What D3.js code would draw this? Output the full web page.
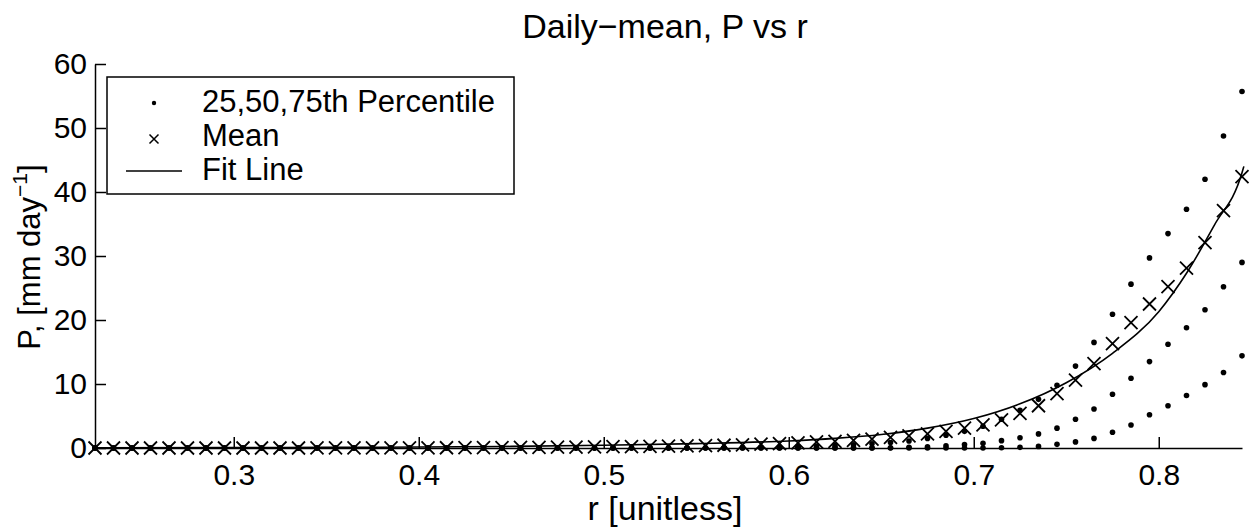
<!DOCTYPE html>
<html>
<head>
<meta charset="utf-8">
<script src="https://cdnjs.cloudflare.com/ajax/libs/d3/7.8.5/d3.min.js"></script>
<style>
  body { margin: 0; background: #fff; }
  svg text { font-family: "Liberation Sans", Arial, Helvetica, sans-serif; fill: #000; }
</style>
</head>
<body>
<svg id="chart" width="1250" height="531"></svg>
<script>
// r bins (bin centres)
var rVals = [
  0.225, 0.235, 0.245, 0.255, 0.265, 0.275, 0.285, 0.295, 0.305, 0.315,
  0.325, 0.335, 0.345, 0.355, 0.365, 0.375, 0.385, 0.395, 0.405, 0.415,
  0.425, 0.435, 0.445, 0.455, 0.465, 0.475, 0.485, 0.495, 0.505, 0.515,
  0.525, 0.535, 0.545, 0.555, 0.565, 0.575, 0.585, 0.595, 0.605, 0.615,
  0.625, 0.635, 0.645, 0.655, 0.665, 0.675, 0.685, 0.695, 0.705, 0.715,
  0.725, 0.735, 0.745, 0.755, 0.765, 0.775, 0.785, 0.795, 0.805, 0.815,
  0.825, 0.835, 0.845
];
var meanP = [
  0, 0, 0, 0, 0, 0, 0, 0, 0, 0,
  0, 0, 0.01, 0.01, 0.01, 0.02, 0.02, 0.03, 0.03, 0.04,
  0.05, 0.06, 0.07, 0.09, 0.1, 0.12, 0.15, 0.18, 0.2, 0.23,
  0.26, 0.3, 0.34, 0.38, 0.43, 0.5, 0.6, 0.7, 0.8, 0.95,
  1.05, 1.2, 1.4, 1.65, 1.9, 2.2, 2.6, 3.1, 3.6, 4.4,
  5.4, 6.6, 8.5, 10.6, 13.2, 16.3, 19.6, 22.5, 25.2, 28.1,
  32.1, 37.1, 42.4
];
var p75 = [
  0, 0, 0, 0, 0, 0, 0, 0, 0, 0,
  0, 0, 0, 0, 0, 0, 0, 0, 0, 0,
  0, 0, 0, 0, 0, 0, 0, 0, 0, 0,
  0, 0, 0, 0.05, 0.08, 0.12, 0.16, 0.2, 0.25, 0.3,
  0.4, 0.5, 0.65, 0.85, 1.1, 1.5, 2.0, 2.6, 3.4, 4.5,
  5.9, 7.6, 9.8, 12.8, 16.5, 20.9, 25.6, 29.7, 33.5, 37.3,
  42.0, 48.75, 55.7
];
var p50 = [
  0, 0, 0, 0, 0, 0, 0, 0, 0, 0,
  0, 0, 0, 0, 0, 0, 0, 0, 0, 0,
  0, 0, 0, 0, 0, 0, 0, 0, 0, 0,
  0, 0, 0, 0, 0, 0, 0, 0, 0, 0,
  0, 0, 0, 0.05, 0.1, 0.2, 0.35, 0.55, 0.75, 1.15,
  1.6, 2.2, 3.1, 4.5, 6.1, 8.4, 10.9, 13.5, 16.2, 18.8,
  21.6, 25.2, 29.0
];
var p25 = [
  0, 0, 0, 0, 0, 0, 0, 0, 0, 0,
  0, 0, 0, 0, 0, 0, 0, 0, 0, 0,
  0, 0, 0, 0, 0, 0, 0, 0, 0, 0,
  0, 0, 0, 0, 0, 0, 0, 0, 0, 0,
  0, 0, 0, 0, 0, 0, 0, 0, 0, 0.05,
  0.1, 0.25, 0.57, 0.95, 1.5, 2.45, 3.6, 5.2, 6.6, 8.2,
  9.9, 11.8, 14.4
];
// fit line
var fitR = [0.225, 0.3, 0.35, 0.4, 0.45, 0.5, 0.55, 0.6, 0.625, 0.65, 0.675, 0.7, 0.725, 0.75, 0.775, 0.8, 0.815, 0.83, 0.845, 0.846];
var fitP = [0.03, 0.06, 0.1, 0.15, 0.25, 0.42, 0.68, 1.1, 1.5, 2.1, 3.1, 4.6, 6.9, 10.2, 14.8, 21.3, 27.3, 34.8, 43.0, 44.0];

var xTicks = [0.3, 0.4, 0.5, 0.6, 0.7, 0.8];
var yTicks = [0, 10, 20, 30, 40, 50, 60];
var legendLabels = ["25,50,75th Percentile", "Mean", "Fit Line"];

var svg = d3.select('#chart');

var x = d3.scaleLinear().domain([0.225, 0.845]).range([95, 1242]);
var y = d3.scaleLinear().domain([0, 60]).range([448, 64]);

//axes, ticks point inward like matlab
var xAxis = svg.append('g')
  .attr('transform', 'translate(0,448)')
  .call(d3.axisBottom(x).tickValues(xTicks).tickFormat(d3.format('.1f'))
    .tickSize(-11).tickSizeOuter(0).tickPadding(16));
var yAxis = svg.append('g')
  .attr('transform', 'translate(95,0)')
  .call(d3.axisLeft(y).tickValues(yTicks).tickSize(-11).tickSizeOuter(0).tickPadding(8));

svg.selectAll('.domain, .tick line')
  .attr('stroke', '#000')
  .attr('stroke-width', 1.5);
svg.selectAll('.tick text')
  .attr('font-size', '30px')
  .attr('font-family', '"Liberation Sans", Arial, sans-serif');

// percentile dots
var pctRows = [p25, p50, p75];
pctRows.forEach(function(row){
  svg.append('g').selectAll('circle')
    .data(rVals)
    .enter()
    .append('circle')
    .attr('cx', function(d){ return x(d); })
    .attr('cy', function(d, i){ return y(row[i]); })
    .attr('r', 2.8)
    .attr('fill', '#000');
});

// mean markers
var xMark = function(s){
  return 'M' + (-s) + ',' + (-s) + 'L' + s + ',' + s + 'M' + (-s) + ',' + s + 'L' + s + ',' + (-s);
};
svg.append('g').selectAll('path')
  .data(rVals)
  .enter()
  .append('path')
  .attr('transform', function(d, i){ return 'translate(' + x(d) + ',' + y(meanP[i]) + ')'; })
  .attr('d', xMark(6.5))
  .attr('stroke', '#000')
  .attr('stroke-width', 1.8)
  .attr('fill', 'none');

// fit line
var fitLine = d3.line()
  .x(function(d){ return x(d); })
  .y(function(d, i){ return y(fitP[i]); })
  .curve(d3.curveMonotoneX);
svg.append('path')
  .datum(fitR)
  .attr('d', fitLine)
  .attr('fill', 'none')
  .attr('stroke', '#000')
  .attr('stroke-width', 1.6);

// title and labels
svg.append('text')
  .attr('x', 665)
  .attr('y', 38)
  .attr('text-anchor', 'middle')
  .attr('font-size', '34px')
  .text('Daily\u2212mean, P vs r');

svg.append('text')
  .attr('x', 665)
  .attr('y', 520)
  .attr('text-anchor', 'middle')
  .attr('font-size', '34px')
  .text('r [unitless]');

var yLab = svg.append('text')
  .attr('transform', 'translate(40,257) rotate(-90)')
  .attr('text-anchor', 'middle')
  .attr('font-size', '31px');
yLab.append('tspan').text('P, [mm day');
yLab.append('tspan').attr('font-size', '21px').attr('dy', -13).text('\u22121');
yLab.append('tspan').attr('dy', 13).text(']');

// legend
var legend = svg.append('g');
legend.append('rect')
  .attr('x', 107)
  .attr('y', 77)
  .attr('width', 407)
  .attr('height', 117)
  .attr('fill', '#fff')
  .attr('stroke', '#000')
  .attr('stroke-width', 1.5);

var rows = legend.selectAll('.legRow')
  .data(legendLabels)
  .enter()
  .append('g')
  .attr('class', 'legRow')
  .attr('transform', function(d, i){ return 'translate(0,' + (102 + i * 34) + ')'; });
rows.append('text')
  .attr('x', 202)
  .attr('y', 10)
  .attr('font-size', '31px')
  .text(function(d){ return d; });

legend.append('circle').attr('cx', 154).attr('cy', 103).attr('r', 2.2).attr('fill', '#000');
legend.append('path')
  .attr('transform', 'translate(154,139)')
  .attr('d', xMark(4.5))
  .attr('stroke', '#000')
  .attr('stroke-width', 1.5);
legend.append('line')
  .attr('x1', 126).attr('x2', 182)
  .attr('y1', 171).attr('y2', 171)
  .attr('stroke', '#000')
  .attr('stroke-width', 1.5);
</script>
</body>
</html>
